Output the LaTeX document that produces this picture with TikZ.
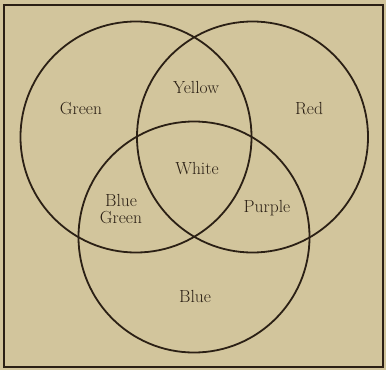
\documentclass[tikz,border=0pt]{standalone}
\usepackage{tikz}

\definecolor{paper}{HTML}{D2C59C}
\definecolor{ink}{HTML}{2B2015}

\begin{document}
\begin{tikzpicture}[x=1pt, y=-1pt,
    ring/.style={draw=ink, line width=1.8pt},
    lbl/.style={text=ink, font=\fontsize{17.5}{18}\selectfont, align=center, inner sep=0pt}]
% Paper and frame
\fill[paper] (0,0) rectangle (386,370);
\useasboundingbox (0,0) rectangle (386,370);
\draw[draw=ink, line width=1.4pt] (4,5) rectangle (383,367);
% Circles
\node[ring, circle, minimum size=231pt, inner sep=0pt] (green) at (136,137) {};
\node[ring, circle, minimum size=231pt, inner sep=0pt] (red) at (252.5,137) {};
\node[ring, circle, minimum size=231pt, inner sep=0pt] (blue) at (194,237) {};
% Region labels
\node[lbl] (lgreen) at (81,109) {Green};
\node[lbl] (lyellow) at (196,87) {Yellow};
\node[lbl] (lred) at (309,109) {Red};
\node[lbl] (lwhite) at (197,169) {White};
\node[lbl] (lbluegreen) at (121,209) {Blue\\[-1pt]Green};
\node[lbl] (lpurple) at (267,208) {Purple};
\node[lbl] (lblue) at (195,296) {Blue};
\end{tikzpicture}
\end{document}
